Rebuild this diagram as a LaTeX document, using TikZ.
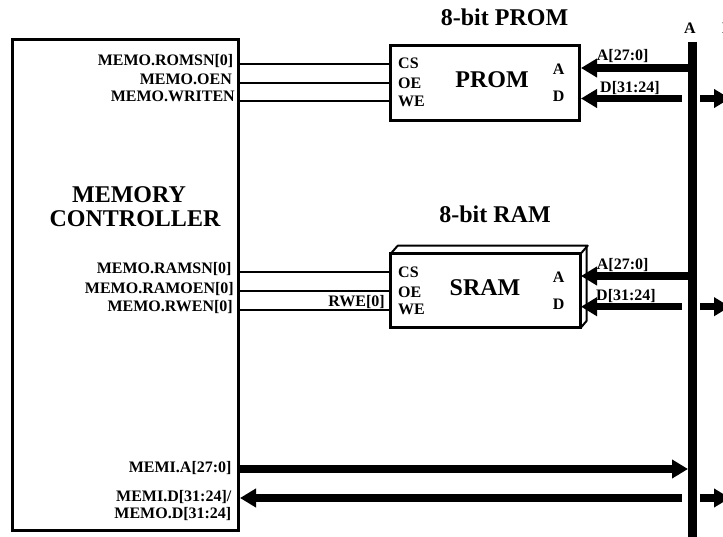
\documentclass[tikz,border=0pt]{standalone}
\usepackage{fontspec}
\setmainfont{Liberation Serif}
\usetikzlibrary{arrows.meta}
\tikzset{
  x=1pt,y=-1pt,
  thickbox/.style={draw=black,line width=3pt,fill=none,inner sep=0pt,outer sep=0pt,anchor=north west},
  sigline/.style={draw=black,line width=2pt},
  bus/.style={draw=black,line width=7.5pt,-{Triangle[length=16pt,width=18pt]}},
  smalllab/.style={font=\bfseries\fontsize{16}{17}\selectfont,inner sep=0pt},
  rlab/.style={smalllab,anchor=base east},
  llab/.style={smalllab,anchor=base west},
  pin/.style={smalllab,anchor=base west},
  title/.style={font=\bfseries\fontsize{24}{24}\selectfont,inner sep=0pt,anchor=base},
  ctl/.style={font=\bfseries\fontsize{24}{24}\selectfont,inner sep=0pt,align=center,anchor=base},
}
\begin{document}
\begin{tikzpicture}
\useasboundingbox (0,0) rectangle (723,537);
\clip (0,0) rectangle (723,537);
% boxes
\node[thickbox,minimum width=226pt,minimum height=491pt] (mc) at (12.5,39.7) {};
\node[thickbox,minimum width=189.5pt,minimum height=75pt] (prom) at (390,46) {};
\node[thickbox,minimum width=189.8pt,minimum height=74.3pt] (sram) at (390.7,253.7) {};
\draw[line width=2pt,line join=round] (sram.north west) -- ++(7,-8) -- ++(190,0) -- ++(-7,8);
\draw[line width=2pt,line join=round] (sram.south east) -- ++(6,-7) -- ++(0,-75);
% bus
\coordinate (bt) at (692.5,42);
\coordinate (bb) at (692.5,537);
\draw[line width=8.5pt] (bt) -- (bb);
% control lines
\foreach \n/\y in {ra/64,rb/83,rc/101,sa/272,sb/291,sc/310}{
  \coordinate (\n l) at (238.5,\y);
  \coordinate (\n r) at (390,\y);
  \draw[sigline] (\n l) -- (\n r);
}
% PROM arrows
\coordinate (pa1) at (692,68); \coordinate (pa2) at (581,68);
\coordinate (pd1) at (682,98.5); \coordinate (pd2) at (581,98.5);
\coordinate (ps1) at (700,98.5); \coordinate (ps2) at (730,98.5);
\draw[bus] (pa1) -- (pa2);
\draw[bus] (pd1) -- (pd2);
\draw[bus] (ps1) -- (ps2);
% SRAM arrows
\coordinate (sa1) at (692,276); \coordinate (sa2) at (581,276);
\coordinate (sd1) at (682,306.7); \coordinate (sd2) at (581,306.7);
\coordinate (ss1) at (700,306.7); \coordinate (ss2) at (730,306.7);
\draw[bus] (sa1) -- (sa2);
\draw[bus] (sd1) -- (sd2);
\draw[bus] (ss1) -- (ss2);
% MEMI arrows
\coordinate (ma1) at (239,469); \coordinate (ma2) at (688,469);
\coordinate (md1) at (682,498); \coordinate (md2) at (240,498);
\coordinate (ms1) at (700,498); \coordinate (ms2) at (730,498);
\draw[bus] (ma1) -- (ma2);
\draw[bus] (md1) -- (md2);
\draw[bus] (ms1) -- (ms2);
% texts
\node[title] (t1) at (504.5,26) {8-bit PROM};
\node[title] (t2) at (495,223) {8-bit RAM};
\node[smalllab,anchor=base] (busA) at (690,34) {A};
\node[smalllab,anchor=base west] (busD) at (722,34) {D};
\node[ctl] (ctl) at (135,227) {MEMORY\hspace*{12pt}\\CONTROLLER};
\node[rlab] (l1) at (233.5,65.7) {MEMO.ROMSN[0]};
\node[rlab] (l2) at (232,84.3) {MEMO.OEN};
\node[rlab] (l3) at (235,101.7) {MEMO.WRITEN};
\node[rlab] (l4) at (231.7,274) {MEMO.RAMSN[0]};
\node[rlab] (l5) at (234,293.3) {MEMO.RAMOEN[0]};
\node[rlab] (l6) at (233,311.7) {MEMO.RWEN[0]};
\node[rlab] (l7) at (385,307) {RWE[0]};
\node[rlab] (l8) at (231.7,472.3) {MEMI.A[27:0]};
\node[rlab] (l9) at (231.5,501.7) {MEMI.D[31:24]/};
\node[rlab] (l10) at (231.5,518.3) {MEMO.D[31:24]};
\node[pin] (p1) at (398,69) {CS};
\node[pin] (p2) at (398,88.3) {OE};
\node[pin] (p3) at (398,107) {WE};
\node[pin] (p4) at (552.7,75) {A};
\node[pin] (p5) at (552.7,101.7) {D};
\node[title] (prn) at (492,88) {PROM};
\node[pin] (s1) at (398,277.3) {CS};
\node[pin] (s2) at (398,297.3) {OE};
\node[pin] (s3) at (398,315) {WE};
\node[pin] (s4) at (552.7,282.7) {A};
\node[pin] (s5) at (552.7,309.3) {D};
\node[title] (srn) at (485,296) {SRAM};
\node[llab] (a1) at (596.7,61) {A[27:0]};
\node[llab] (a2) at (600,92.3) {D[31:24]};
\node[llab] (a3) at (596.7,270) {A[27:0]};
\node[llab] (a4) at (596,300.7) {D[31:24]};
\end{tikzpicture}
\end{document}
